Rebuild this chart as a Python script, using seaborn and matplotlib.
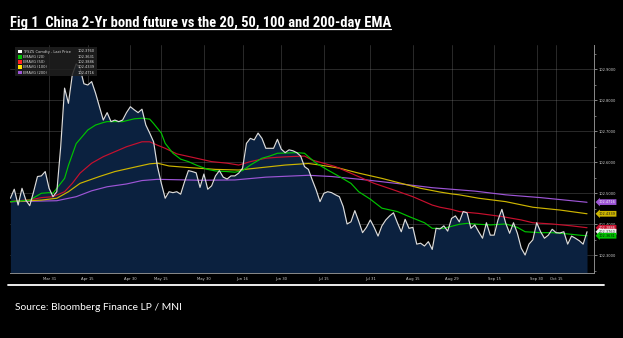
import numpy as np
import pandas as pd
import matplotlib
matplotlib.use("Agg")
import matplotlib.pyplot as plt
import matplotlib.transforms as mtransforms
from matplotlib.lines import Line2D
from matplotlib.patches import Rectangle
from matplotlib import font_manager as fm
import seaborn as sns

# ---------------- data ----------------
start_date = "2025-03-17"
end_date = "2025-10-27"
holidays = ["2025-04-04", "2025-05-01", "2025-05-02", "2025-05-05", "2025-06-02",
            "2025-10-01", "2025-10-02", "2025-10-03", "2025-10-06", "2025-10-07", "2025-10-08"]
tick_dates = ["2025-03-31", "2025-04-15", "2025-04-30", "2025-05-15", "2025-05-30", "2025-06-16",
              "2025-06-30", "2025-07-15", "2025-07-31", "2025-08-15", "2025-08-29", "2025-09-15",
              "2025-09-30", "2025-10-15"]
tick_labels = ["Mar 31", "Apr 15", "Apr 30", "May 15", "May 30", "Jun 16", "Jun 30", "Jul 15",
               "Jul 31", "Aug 15", "Aug 29", "Sep 15", "Sep 30", "Oct 15"]

price = [102.484, 102.513, 102.462, 102.516, 102.478, 102.460, 102.505, 102.554, 102.556, 102.570,
         102.516, 102.489, 102.505, 102.650, 102.839, 102.790, 102.882, 102.917, 102.903, 102.853,
         102.849, 102.860, 102.823, 102.779, 102.736, 102.760, 102.731, 102.736, 102.731, 102.736,
         102.760, 102.779, 102.769, 102.760, 102.771, 102.720, 102.694, 102.666, 102.586, 102.532,
         102.484, 102.505, 102.502, 102.505, 102.497, 102.537, 102.573, 102.570, 102.566, 102.519,
         102.562, 102.513, 102.524, 102.556, 102.573, 102.552, 102.546, 102.556, 102.556, 102.565,
         102.581, 102.661, 102.677, 102.672, 102.694, 102.677, 102.645, 102.645, 102.645, 102.674,
         102.642, 102.631, 102.640, 102.637, 102.631, 102.620, 102.586, 102.577, 102.543, 102.511,
         102.473, 102.500, 102.505, 102.502, 102.495, 102.489, 102.457, 102.401, 102.408, 102.444,
         102.410, 102.373, 102.390, 102.414, 102.390, 102.362, 102.395, 102.414, 102.427, 102.437,
         102.405, 102.376, 102.416, 102.387, 102.390, 102.336, 102.339, 102.330, 102.344, 102.319,
         102.387, 102.385, 102.395, 102.378, 102.419, 102.427, 102.408, 102.441, 102.437, 102.387,
         102.398, 102.376, 102.355, 102.405, 102.365, 102.365, 102.414, 102.448, 102.403, 102.371,
         102.405, 102.371, 102.323, 102.301, 102.336, 102.350, 102.405, 102.376, 102.355, 102.365,
         102.384, 102.373, 102.372, 102.376, 102.336, 102.362, 102.355, 102.347, 102.336, 102.376]

ema20_pos = [0, 5, 8, 10, 11, 12, 14, 15, 17, 20, 22, 24, 25, 29, 32, 34, 36, 37, 39, 40, 42, 44, 46,
             48, 51, 53, 56, 58, 60, 62, 65, 67, 69, 74, 76, 77, 79, 82, 85, 88, 90, 93, 96, 100,
             103, 107, 109, 112, 116, 118, 121, 124, 128, 131, 133, 137, 140, 144, 147, 149]
ema20_val = [102.473, 102.478, 102.500, 102.502, 102.500, 102.516, 102.548, 102.590, 102.660, 102.704,
             102.720, 102.728, 102.731, 102.731, 102.740, 102.742, 102.739, 102.725, 102.694, 102.661,
             102.629, 102.610, 102.602, 102.591, 102.577, 102.572, 102.570, 102.568, 102.573, 102.591,
             102.613, 102.620, 102.629, 102.631, 102.629, 102.618, 102.597, 102.575, 102.554, 102.532,
             102.505, 102.481, 102.452, 102.441, 102.425, 102.405, 102.387, 102.387, 102.400, 102.403,
             102.400, 102.398, 102.401, 102.390, 102.376, 102.373, 102.373, 102.369, 102.365, 102.363]

ema50_pos = [0, 6, 8, 11, 14, 16, 18, 21, 24, 27, 30, 34, 36, 38, 40, 43, 47, 52, 56, 59, 62, 66,
             69, 72, 76, 78, 84, 89, 94, 99, 104, 109, 111, 114, 116, 121, 127, 132, 135, 140, 145, 149]
ema50_val = [102.473, 102.481, 102.486, 102.489, 102.505, 102.532, 102.565, 102.597, 102.618, 102.634,
             102.650, 102.666, 102.666, 102.655, 102.645, 102.627, 102.616, 102.602, 102.597, 102.591,
             102.602, 102.613, 102.616, 102.618, 102.620, 102.607, 102.586, 102.559, 102.532, 102.511,
             102.489, 102.462, 102.455, 102.448, 102.441, 102.435, 102.425, 102.414, 102.405, 102.401,
             102.395, 102.389]

ema100_pos = [0, 8, 12, 15, 18, 23, 27, 32, 36, 38, 41, 46, 53, 59, 65, 71, 77, 80, 85, 90, 96, 101,
              106, 111, 114, 116, 121, 128, 135, 142, 149]
ema100_val = [102.473, 102.478, 102.484, 102.505, 102.532, 102.554, 102.570, 102.584, 102.595, 102.597,
              102.588, 102.583, 102.577, 102.575, 102.583, 102.591, 102.596, 102.591, 102.581, 102.565,
              102.548, 102.532, 102.516, 102.504, 102.498, 102.495, 102.484, 102.473, 102.455, 102.446,
              102.434]

ema200_pos = [0, 12, 17, 21, 25, 30, 34, 38, 49, 58, 66, 77, 83, 92, 101, 109, 114, 120, 128, 137, 149]
ema200_val = [102.473, 102.476, 102.489, 102.508, 102.521, 102.530, 102.541, 102.545, 102.542, 102.543,
              102.552, 102.558, 102.554, 102.543, 102.530, 102.518, 102.513, 102.507, 102.495, 102.486,
              102.471]

legend_labels = ["TFSZ5 Comdty - Last Price", "EMAVG (20)", "EMAVG (50)", "EMAVG (100)", "EMAVG (200)"]
legend_values = [102.3760, 102.3631, 102.3886, 102.4339, 102.4716]

title_text = "Fig 1  China 2-Yr bond future vs the 20, 50, 100 and 200-day EMA"
source_text = "Source: Bloomberg Finance LP / MNI"

# ---------------- style ----------------
sns.set_style("dark")
plt.rcParams["font.family"] = ["DejaVu Sans"]
names = {f.name for f in fm.fontManager.ttflist}
title_font = next((n for n in ["Liberation Sans Narrow", "Roboto Condensed", "Lato", "Roboto"]
                   if n in names), "DejaVu Sans")
source_font = next((n for n in ["Lato", "Roboto", "Open Sans"] if n in names), "DejaVu Sans")

W, H = 623, 338
fig = plt.figure(figsize=(W / 100, H / 100), dpi=100, facecolor="black")

def fx(px):
    return px / W

def fy(py):
    return 1 - py / H

ax = fig.add_axes([fx(10), fy(273), fx(594) - fx(10), fy(45) - fy(273)])
ax.set_facecolor("black")

col_price = "#dcdcdc"
col_20 = "#00c400"
col_50 = "#c8102e"
col_100 = "#cdb500"
col_200 = "#9d55d6"
fill_col = "#0b213f"

# trading-day positions
dates = pd.bdate_range(start_date, end_date)
dates = dates[~dates.isin(pd.to_datetime(holidays))]
tick_pos = list(dates.get_indexer(pd.to_datetime(tick_dates)))

df_price = pd.DataFrame({"pos": np.arange(len(price)), "value": price})
ymin, ymax = 102.243, 102.978

ax.fill_between(df_price["pos"], df_price["value"], ymin, color=fill_col, lw=0, zorder=1)

sns.lineplot(data=df_price, x="pos", y="value", color=col_price, lw=0.85, ax=ax, zorder=6)
for pos, val, c, z in [(ema200_pos, ema200_val, col_200, 3), (ema100_pos, ema100_val, col_100, 3.5),
                       (ema50_pos, ema50_val, col_50, 4), (ema20_pos, ema20_val, col_20, 5)]:
    d = pd.DataFrame({"pos": pos, "value": val})
    sns.lineplot(data=d, x="pos", y="value", color=c, lw=0.85, ax=ax, zorder=z)

ax.set_xlim(-0.1, 150.8)
ax.set_ylim(ymin, ymax)
ax.set_xlabel("")
ax.set_ylabel("")

# axes / ticks
ax.yaxis.tick_right()
ax.set_yticks(np.arange(102.3, 102.95, 0.1))
ax.set_yticklabels([f"{v:.4f}" for v in np.arange(102.3, 102.95, 0.1)])
ax.set_yticks(np.arange(102.25, 102.98, 0.05), minor=True)
ax.set_xticks(tick_pos)
ax.set_xticklabels(tick_labels)
ax.set_xticks([(a + b) / 2 for a, b in zip(tick_pos[:-1], tick_pos[1:])] + [tick_pos[0] - 5, tick_pos[-1] + 5], minor=True)
ax.tick_params(axis="y", which="major", labelsize=2.6, labelcolor="#cfcfcf", color="#9a9a9a",
               length=2, width=0.6, pad=1.5)
ax.tick_params(axis="y", which="minor", color="#9a9a9a", length=1.2, width=0.5)
ax.tick_params(axis="x", which="major", labelsize=2.7, labelcolor="#cfcfcf", color="#9a9a9a",
               length=1.5, width=0.5, pad=1.5)
ax.tick_params(axis="x", which="minor", color="#9a9a9a", length=1.2, width=0.5)
ax.grid(True, which="major", color="#8a8a8a", alpha=0.35, lw=0.6)
for s in ["left", "top"]:
    ax.spines[s].set_visible(False)
for s in ["right", "bottom"]:
    ax.spines[s].set_visible(True)
    ax.spines[s].set_color("#8a8a8a")
    ax.spines[s].set_linewidth(0.7)

# value tags on right
trans = mtransforms.blended_transform_factory(ax.transAxes, ax.transData)
tag_cols = [("#f0f0f0", "#333333"), (col_20, "#0a0a0a"), (col_50, "#f0f0f0"),
            (col_100, "#1a1a1a"), (col_200, "#f0f0f0")]
order = [4, 3, 2, 0, 1]
for i in order:
    fc, tc = tag_cols[i]
    ax.text(1.008, legend_values[i], f"{legend_values[i]:.4f}", transform=trans, fontsize=2.5,
            color=tc, va="center", ha="left", clip_on=False, zorder=10,
            bbox=dict(boxstyle="larrow,pad=0.25", fc=fc, ec="none"))

# legend box (top-left)
fig.add_artist(Rectangle((fx(15), fy(76)), fx(97) - fx(15), fy(47) - fy(76),
                         transform=fig.transFigure, fc="#202020", ec="none", alpha=0.85, zorder=5))
leg_cols = [col_price, col_20, "#ff2020", "#ffe000", col_200]
for k, (lab, v, c) in enumerate(zip(legend_labels, legend_values, leg_cols)):
    yy = 51.5 + k * 5.25
    fig.add_artist(Rectangle((fx(18), fy(yy + 1.8)), fx(3.6), 3.6 / H, transform=fig.transFigure,
                             fc=c if k else "white", ec="none", zorder=6))
    fig.text(fx(23.5), fy(yy), lab, fontsize=2.6, color="#d8d8d8", va="center", ha="left", zorder=7)
    fig.text(fx(95), fy(yy), f"{v:.4f}", fontsize=2.6, color="#d8d8d8", va="center", ha="right", zorder=7)

# title, underline, separator, source
t = fig.text(fx(10), fy(27), title_text, fontsize=12, fontweight="bold", color="white",
             family=[title_font, "DejaVu Sans"], va="baseline", ha="left")
s = fig.text(fx(15), fy(310.5), source_text, fontsize=8, color="white",
             family=[source_font, "DejaVu Sans"], va="baseline", ha="left")
fig.canvas.draw()
r = fig.canvas.get_renderer()
t.set_fontsize(12 * 381 / t.get_window_extent(r).width)
s.set_fontsize(8 * 168 / s.get_window_extent(r).width)
fig.canvas.draw()
bb = t.get_window_extent(r)
fig.add_artist(Line2D([bb.x0 / W, bb.x1 / W], [fy(29), fy(29)], transform=fig.transFigure,
                      color="white", lw=0.9))
fig.add_artist(Line2D([fx(8), fx(604)], [fy(284.5), fy(284.5)], transform=fig.transFigure,
                      color="white", lw=1.3))

fig.savefig("out.png", dpi=100, facecolor="black")
